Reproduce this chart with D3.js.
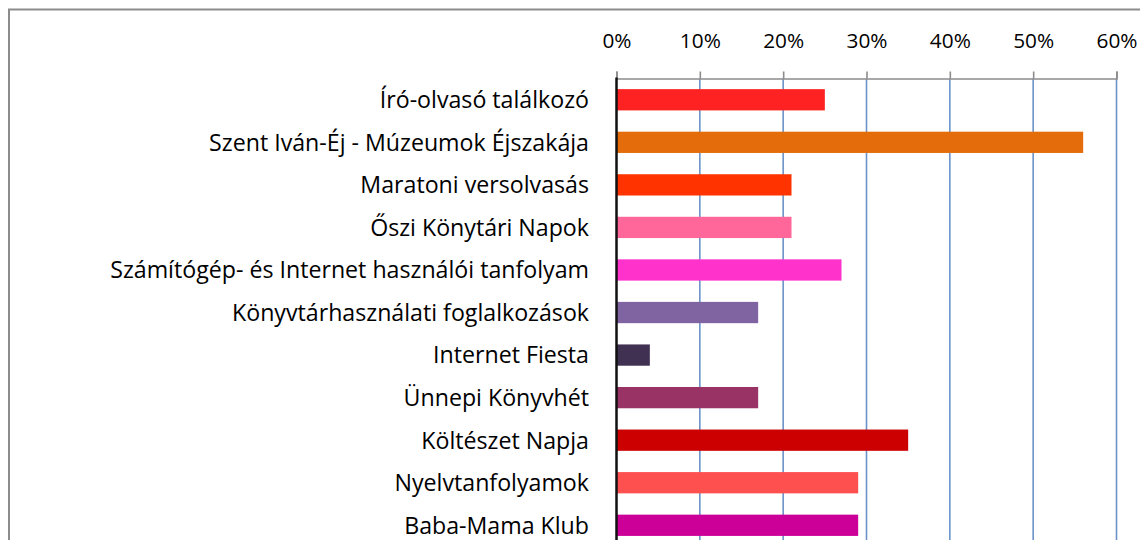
<!DOCTYPE html>
<html>
<head>
<meta charset="utf-8">
<script src="https://cdn.jsdelivr.net/npm/d3@7"></script>
<style>
   body { margin: 0; background: #fff; }
   svg { display: block; }
   text { font-family: "Open Sans", "Noto Sans", sans-serif; fill: #000; }
</style>
</head>
<body>
<div id="chart"></div>
<script>
// Chart data
let categories = [
   "Író-olvasó találkozó",
   "Szent Iván-Éj - Múzeumok Éjszakája",
   "Maratoni versolvasás",
   "Őszi Könytári Napok",
   "Számítógép- és Internet használói tanfolyam",
   "Könyvtárhasználati foglalkozások",
   "Internet Fiesta",
   "Ünnepi Könyvhét",
   "Költészet Napja",
   "Nyelvtanfolyamok",
   "Baba-Mama Klub"
]
let values = [0.25, 0.56, 0.21, 0.21, 0.27, 0.17, 0.04, 0.17, 0.35, 0.29, 0.29]
let barColors = ["#ff2222", "#e46c0a", "#ff3300", "#ff6699", "#ff33cc", "#8064a2",
   "#403152", "#993366", "#cc0000", "#ff5050", "#cc0099"]
let tickValues = [0, 0.1, 0.2, 0.3, 0.4, 0.5, 0.6]

let width = 1140
let height = 540
let margin = { top: 78.5, left: 616.5, right: 23.5 }

let svg = d3.select("#chart").append("svg")
   .attr("width", width)
   .attr("height", height)

// chart frame (bottom/right run off the picture)
svg.append("rect")
   .attr("x", 9).attr("y", 9.5)
   .attr("width", 1160).attr("height", 600)
   .attr("fill", "none")
   .attr("stroke", "#8c8c8c")
   .attr("stroke-width", 2)

let x = d3.scaleLinear().domain([0, 0.6]).range([margin.left, width - margin.right])
let y = d3.scaleBand().domain(categories)
   .range([margin.top, margin.top + categories.length * 42.55])
   .paddingInner(0.5).paddingOuter(0.25)

// vertical gridlines
svg.append("g").selectAll("line").data(tickValues.slice(1)).enter().append("line")
   .attr("x1", d => x(d)).attr("x2", d => x(d))
   .attr("y1", margin.top).attr("y2", height)
   .attr("stroke", "#6b93c9")
   .attr("stroke-width", 1.6)

// top axis
let axis = svg.append("g")
   .attr("transform", "translate(0," + margin.top + ")")
   .call(d3.axisTop(x).tickValues(tickValues).tickFormat(d3.format(".0%")).tickSize(7).tickPadding(24))
axis.select(".domain").attr("stroke", "#8c8c8c").attr("stroke-width", 1.6)
axis.selectAll(".tick line").attr("stroke", "#8c8c8c").attr("stroke-width", 1.6)
let tickText = axis.selectAll("text")
   .style("font-family", "'Open Sans', 'Noto Sans', sans-serif")
   .style("font-size", "18px")
   .attr("fill", "#000")

// bars
svg.append("g").selectAll("rect").data(values).enter().append("rect")
   .attr("x", x(0))
   .attr("y", (d, i) => y(categories[i]))
   .attr("width", d => x(d) - x(0))
   .attr("height", y.bandwidth())
   .attr("fill", (d, i) => barColors[i])

// category labels
let labels = svg.append("g").selectAll("text").data(categories).enter().append("text")
   .attr("x", 589)
   .attr("y", d => y(d) + y.bandwidth() / 2)
   .attr("dy", "0.36em")
   .attr("text-anchor", "end")
   .style("font-size", "19px")
   .text(d => d)

// fit fonts to the reference widths (original uses Calibri)
let longest = d3.max(labels.nodes(), n => n.getComputedTextLength())
labels.style("font-size", (19 * 479 / longest) + "px")
let sixty = tickText.nodes()[tickText.size() - 1].getComputedTextLength()
tickText.style("font-size", (18 * 41 / sixty) + "px")

// zero axis line
svg.append("line")
   .attr("x1", x(0)).attr("x2", x(0))
   .attr("y1", margin.top - 1).attr("y2", height)
   .attr("stroke", "#111")
   .attr("stroke-width", 2.5)
</script>
</body>
</html>
